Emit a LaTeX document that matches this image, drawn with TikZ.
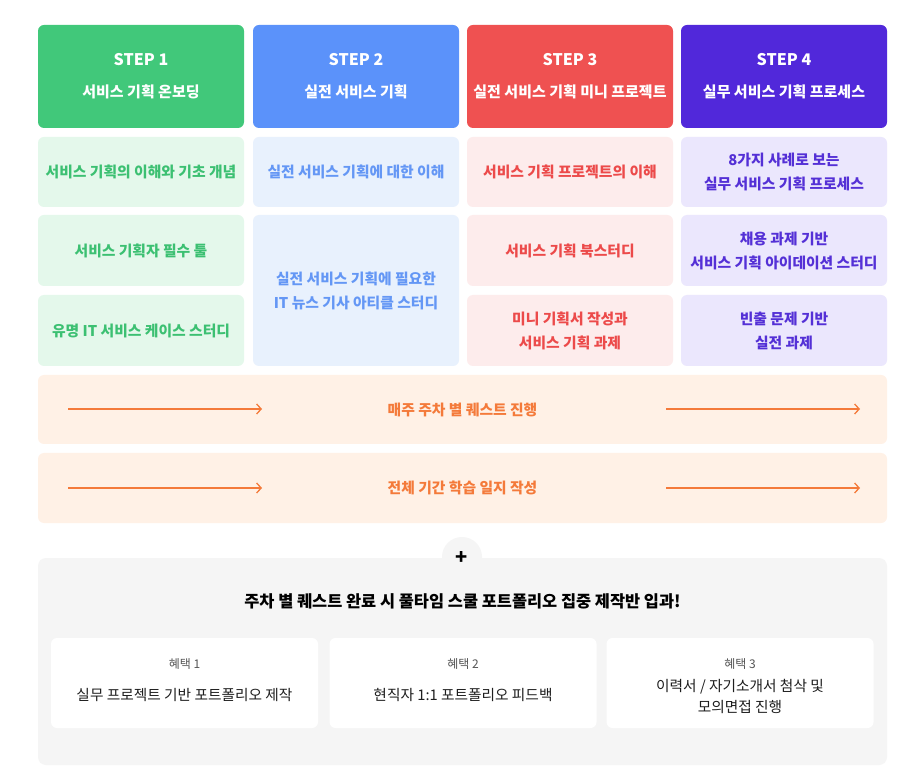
\documentclass[tikz,border=0pt]{standalone}
\usepackage{fontspec}
\setmainfont{Noto Sans CJK KR}
\usetikzlibrary{arrows.meta}
\definecolor{gH}{HTML}{41C87A}
\definecolor{gL}{HTML}{E4F8EB}
\definecolor{gT}{HTML}{3CC072}
\definecolor{bH}{HTML}{5B92FA}
\definecolor{bL}{HTML}{E8F1FD}
\definecolor{bT}{HTML}{6497F5}
\definecolor{rH}{HTML}{EF5151}
\definecolor{rL}{HTML}{FDECEC}
\definecolor{rT}{HTML}{EC4A4A}
\definecolor{pH}{HTML}{5128DA}
\definecolor{pL}{HTML}{EBE7FD}
\definecolor{pT}{HTML}{5430D6}
\definecolor{oL}{HTML}{FFF1E6}
\definecolor{oT}{HTML}{F47A3A}
\definecolor{grL}{HTML}{F5F5F5}
\definecolor{txD}{HTML}{1E1E1E}
\definecolor{txG}{HTML}{555555}
\begin{document}
\begin{tikzpicture}[x=1pt,y=-1pt,
  cell/.style={rectangle, rounded corners=6pt, minimum width=206pt, inner sep=0pt, align=center, font=\bfseries\fontsize{14.8}{24}\selectfont},
  hdr/.style={cell, minimum height=103pt, text=white, font=\bfseries\fontsize{15}{32}\selectfont},
  bar/.style={rectangle, rounded corners=6pt, minimum width=849pt, inner sep=0pt, fill=oL, text=oT, font=\bfseries\fontsize{14.8}{20}\selectfont},
  flow/.style={draw=oT, line width=1.3pt, -{Straight Barb[length=4.5pt,width=10pt,line width=1.3pt]}},
  benefit/.style={rectangle, rounded corners=6pt, minimum width=267pt, minimum height=90pt, fill=white, inner sep=0pt},
  blabel/.style={text=txG, font=\fontsize{12}{16}\selectfont},
  btext/.style={text=txD, align=center, font=\fontsize{14.7}{21}\selectfont}
]
\path[fill=white] (0,0) rectangle (924,783);

% headers
\node[hdr, fill=gH] (h1) at (141,76.5) {{\fontsize{16}{16}\selectfont STEP 1}\\서비스 기획 온보딩};
\node[hdr, fill=bH] (h2) at (356,76.5) {{\fontsize{16}{16}\selectfont STEP 2}\\실전 서비스 기획};
\node[hdr, fill=rH] (h3) at (570,76.5) {{\fontsize{16}{16}\selectfont STEP 3}\\실전 서비스 기획 미니 프로젝트};
\node[hdr, fill=pH] (h4) at (784,76.5) {{\fontsize{16}{16}\selectfont STEP 4}\\실무 서비스 기획 프로세스};

% column 1
\node[cell, fill=gL, text=gT, minimum height=70pt] (g1) at (141,172) {서비스 기획의 이해와 기초 개념};
\node[cell, fill=gL, text=gT, minimum height=71pt] (g2) at (141,250.5) {서비스 기획자 필수 툴};
\node[cell, fill=gL, text=gT, minimum height=71pt] (g3) at (141,330.5) {유명 IT 서비스 케이스 스터디};

% column 2
\node[cell, fill=bL, text=bT, minimum height=70pt] (b1) at (356,172) {실전 서비스 기획에 대한 이해};
\node[cell, fill=bL, text=bT, minimum height=151pt] (b2) at (356,290.5) {실전 서비스 기획에 필요한\\IT 뉴스 기사 아티클 스터디};

% column 3
\node[cell, fill=rL, text=rT, minimum height=70pt] (r1) at (570,172) {서비스 기획 프로젝트의 이해};
\node[cell, fill=rL, text=rT, minimum height=71pt] (r2) at (570,250.5) {서비스 기획 북스터디};
\node[cell, fill=rL, text=rT, minimum height=71pt] (r3) at (570,330.5) {미니 기획서 작성과\\서비스 기획 과제};

% column 4
\node[cell, fill=pL, text=pT, minimum height=70pt] (p1) at (784,172) {8가지 사례로 보는\\실무 서비스 기획 프로세스};
\node[cell, fill=pL, text=pT, minimum height=71pt] (p2) at (784,250.5) {채용 과제 기반\\서비스 기획 아이데이션 스터디};
\node[cell, fill=pL, text=pT, minimum height=71pt] (p3) at (784,330.5) {빈출 문제 기반\\실전 과제};

% orange bars
\node[bar, minimum height=69pt] (o1) at (462.5,409.5) {매주 주차 별 퀘스트 진행};
\node[bar, minimum height=70pt] (o2) at (462.5,488) {전체 기간 학습 일지 작성};
\coordinate (a1s) at (68,409);
\coordinate (a1e) at (262,409);
\coordinate (a2s) at (666,409);
\coordinate (a2e) at (860,409);
\coordinate (a3s) at (68,488);
\coordinate (a3e) at (262,488);
\coordinate (a4s) at (666,488);
\coordinate (a4e) at (860,488);
\draw[flow] (a1s) -- (a1e);
\draw[flow] (a2s) -- (a2e);
\draw[flow] (a3s) -- (a3e);
\draw[flow] (a4s) -- (a4e);

% bottom panel
\node[circle, fill=grL, minimum size=40pt, inner sep=0pt] (plus) at (462,557) {};
\node[rectangle, rounded corners=8pt, fill=grL, minimum width=849pt, minimum height=207pt, inner sep=0pt] (panel) at (462.5,661.5) {};
\node[font=\bfseries\fontsize{20}{20}\selectfont, text=black] (plusT) at (462,558) {+};
\node[text=black, font=\bfseries\fontsize{16.4}{20}\selectfont] (title) at (462.5,601) {주차 별 퀘스트 완료 시 풀타임 스쿨 포트폴리오 집중 제작반 입과!};

\node[benefit] (k1) at (184.5,683) {};
\node[benefit] (k2) at (463,683) {};
\node[benefit] (k3) at (740,683) {};
\node[blabel] (k1l) at (184.5,664) {혜택 1};
\node[blabel] (k2l) at (463,664) {혜택 2};
\node[blabel] (k3l) at (740,664) {혜택 3};
\node[btext] (k1t) at (184.5,695) {실무 프로젝트 기반 포트폴리오 제작};
\node[btext] (k2t) at (463,695) {현직자 1:1 포트폴리오 피드백};
\node[btext] (k3t) at (740,696.5) {이력서 / 자기소개서 첨삭 및\\모의면접 진행};
\end{tikzpicture}
\end{document}
